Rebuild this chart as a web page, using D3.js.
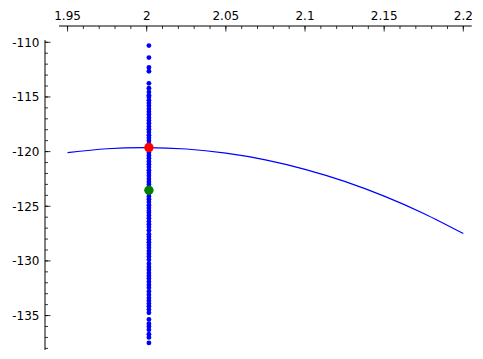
<!DOCTYPE html>
<html>
<head>
<meta charset="utf-8">
<script src="https://cdn.jsdelivr.net/npm/d3@7"></script>
<style>
  body { margin: 0; background: #fff; }
</style>
</head>
<body>
<div id="chart"></div>
<script>
const ancho = 483;
const alto = 359;

// curva (x, y)
const curvaX = [1.95, 1.975, 2.0, 2.025, 2.05, 2.075, 2.1, 2.125, 2.15, 2.175, 2.2];
const curvaY = [-120.1, -119.74, -119.63, -119.76, -120.14, -120.75, -121.62, -122.72, -124.07, -125.66, -127.5];

// puntos azules, todos en la misma x
const puntosX = 2.0014;
const puntosY = [
  -110.3, -111.4, -112.3, -112.65, -113.75, -114.2, -114.55, -114.85,
  -115.0, -115.3, -115.55, -115.8, -116.1, -116.35, -116.6, -116.9, -117.15, -117.4,
  -117.7, -117.95, -118.2, -118.5, -118.75, -119.0, -119.3, -119.55, -119.8, -120.1,
  -120.35, -120.6, -120.9, -121.15, -121.4, -121.7, -121.95, -122.2, -122.5, -122.75,
  -123.0, -123.3, -123.55, -123.8, -124.1, -124.35, -124.6, -124.9, -125.15, -125.4,
  -125.6, -125.85, -126.1, -126.4, -126.65, -126.9, -127.2,
  -127.55, -127.8, -128.05, -128.3, -128.55, -128.8,
  -129.1, -129.35, -129.6, -129.9,
  -130.25, -130.55, -130.8,
  -131.1, -131.35, -131.6, -131.9, -132.2, -132.45,
  -132.8, -133.1, -133.4,
  -133.65, -133.9, -134.15, -134.45, -134.75,
  -135.35, -135.75, -136.0, -136.3, -136.7, -137.0, -137.5
];

// puntos destacados
const puntoRojo = [2.0014, -119.63];
const puntoVerde = [2.0014, -123.54];

// marcas de los ejes
const xTicks = [1.95, 2.0, 2.05, 2.1, 2.15, 2.2];
const xTickLabels = ["1.95", "2", "2.05", "2.1", "2.15", "2.2"];
const yTicks = [-110, -115, -120, -125, -130, -135];
const yTickLabels = ["-110", "-115", "-120", "-125", "-130", "-135"];

const x = d3.scaleLinear().domain([1.9446, 2.2053]).range([59, 471.7]);
const y = d3.scaleLinear().domain([-109.79, -138.15]).range([40, 350]);

const svg = d3.select("#chart").append("svg")
  .attr("width", ancho)
  .attr("height", alto)
  .attr("font-family", "DejaVu Sans")
  .attr("font-size", 12);

// eje x arriba
const ejeXy = 26;
svg.append("line")
  .attr("x1", 59).attr("x2", 471.7)
  .attr("y1", ejeXy).attr("y2", ejeXy)
  .attr("stroke", "#000").attr("stroke-width", 1);

const xMenores = d3.range(195, 221).map(d => d / 100);
svg.selectAll(".xmenor")
  .data(xMenores)
  .enter().append("line")
  .attr("x1", d => x(d)).attr("x2", d => x(d))
  .attr("y1", ejeXy).attr("y2", ejeXy + 3)
  .attr("stroke", "#000").attr("stroke-width", 0.8);

svg.selectAll(".xmayor")
  .data(xTicks)
  .enter().append("line")
  .attr("x1", d => x(d)).attr("x2", d => x(d))
  .attr("y1", ejeXy).attr("y2", ejeXy + 5.5)
  .attr("stroke", "#000").attr("stroke-width", 0.8);

svg.selectAll(".xlabel")
  .data(xTicks)
  .enter().append("text")
  .attr("x", d => x(d))
  .attr("y", 20)
  .attr("text-anchor", "middle")
  .text((d, i) => xTickLabels[i]);

// eje y a la izquierda
const ejeYx = 45;
svg.append("line")
  .attr("x1", ejeYx).attr("x2", ejeYx)
  .attr("y1", 40).attr("y2", 350)
  .attr("stroke", "#000").attr("stroke-width", 1);

const yMenores = d3.range(-138, -109).map(d => d);
svg.selectAll(".ymenor")
  .data(yMenores)
  .enter().append("line")
  .attr("x1", ejeYx).attr("x2", ejeYx + 3)
  .attr("y1", d => y(d)).attr("y2", d => y(d))
  .attr("stroke", "#000").attr("stroke-width", 0.8);

svg.selectAll(".ymayor")
  .data(yTicks)
  .enter().append("line")
  .attr("x1", ejeYx).attr("x2", ejeYx + 5.5)
  .attr("y1", d => y(d)).attr("y2", d => y(d))
  .attr("stroke", "#000").attr("stroke-width", 0.8);

svg.selectAll(".ylabel")
  .data(yTicks)
  .enter().append("text")
  .attr("x", 39.5)
  .attr("y", d => y(d))
  .attr("dy", "0.36em")
  .attr("text-anchor", "end")
  .text((d, i) => yTickLabels[i]);

// curva
const datosCurva = curvaX.map((d, i) => [d, curvaY[i]]);
svg.append("path")
  .datum(datosCurva)
  .attr("fill", "none")
  .attr("stroke", "#0000ff")
  .attr("stroke-width", 1.2)
  .attr("d", d3.line().x(d => x(d[0])).y(d => y(d[1])).curve(d3.curveNatural));

// puntos
svg.selectAll(".punto")
  .data(puntosY)
  .enter().append("circle")
  .attr("cx", x(puntosX))
  .attr("cy", d => y(d))
  .attr("r", 2.4)
  .attr("fill", "#0000ff");

svg.append("circle")
  .attr("cx", x(puntoRojo[0])).attr("cy", y(puntoRojo[1]))
  .attr("r", 4.7).attr("fill", "#ff0000");

svg.append("circle")
  .attr("cx", x(puntoVerde[0])).attr("cy", y(puntoVerde[1]))
  .attr("r", 4.7).attr("fill", "#008000");
</script>
</body>
</html>
